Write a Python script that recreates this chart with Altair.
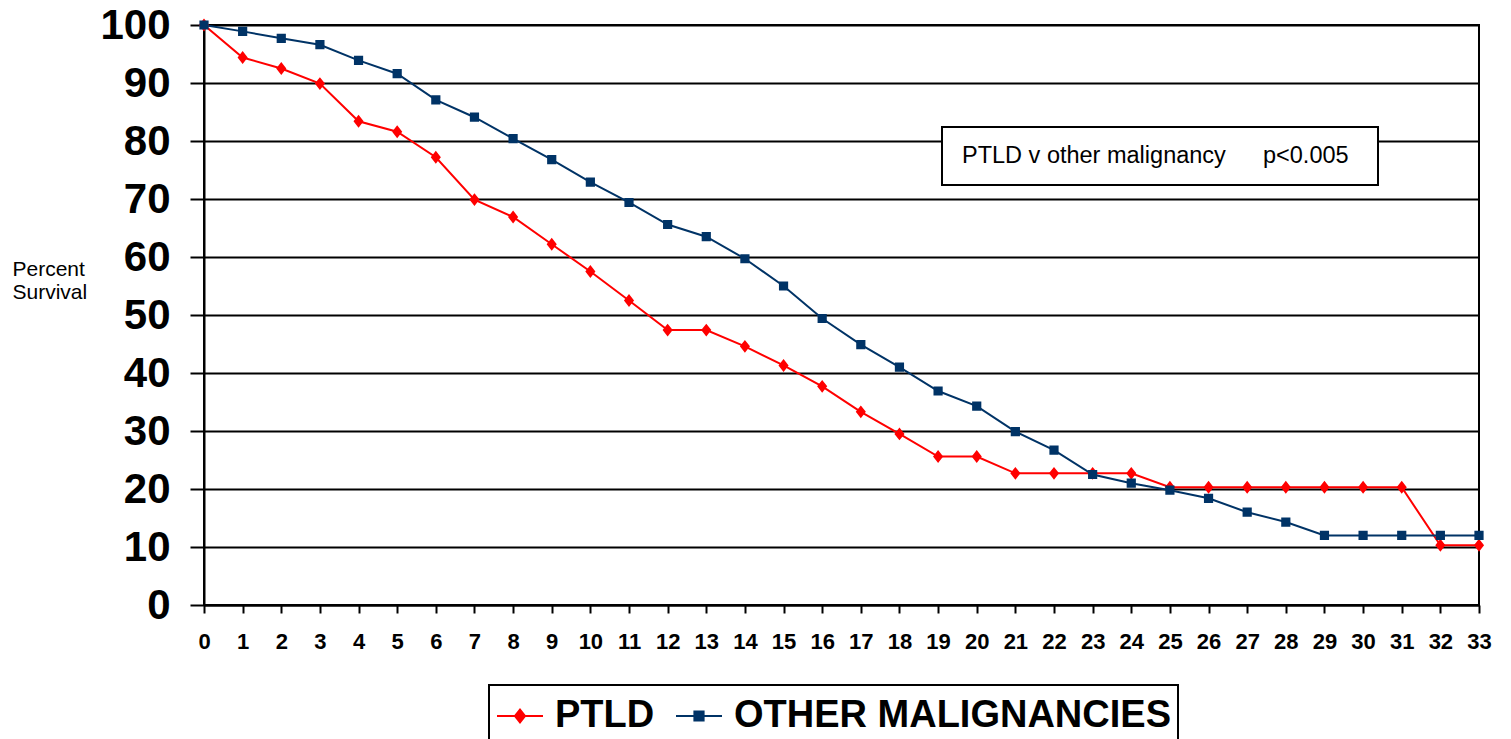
import altair as alt
import pandas as pd

# ---- data ----
months = list(range(0, 34))
ptld = [100, 94.4, 92.5, 89.9, 83.4, 81.6, 77.2, 69.9, 66.9, 62.2, 57.5, 52.5,
        47.4, 47.4, 44.6, 41.3, 37.7, 33.3, 29.5, 25.6, 25.6, 22.7, 22.7, 22.7,
        22.7, 20.3, 20.3, 20.3, 20.3, 20.3, 20.3, 20.3, 10.3, 10.3]
other = [100, 98.9, 97.7, 96.6, 93.9, 91.6, 87.1, 84.1, 80.4, 76.8, 72.9, 69.4,
         65.6, 63.5, 59.7, 55.0, 49.4, 44.9, 41.0, 36.9, 34.3, 29.9, 26.7, 22.5,
         21.0, 19.8, 18.4, 16.0, 14.3, 12.0, 12.0, 12.0, 12.0, 12.0]
series_names = ["PTLD", "OTHER MALIGNANCIES"]
y_ticks = list(range(0, 101, 10))
annotation_left = ["PTLD v other malignancy"]
annotation_right = ["p<0.005"]

RED = "#ff0000"
NAVY = "#003366"
FONT = "Liberation Sans"

df = pd.DataFrame({
    "month": months * 2,
    "survival": ptld + other,
    "series": [series_names[0]] * len(ptld) + [series_names[1]] * len(other),
})
ann = pd.DataFrame({"left": annotation_left, "right": annotation_right})

# marker shapes: an open horizontal stroke (visible only in the legend, where
# symbols are stroked) plus a closed filled marker (diamond / square)
LEG_D = "M-1,0H1M0,-0.28L0.22,0L0,0.28L-0.22,0Z"
LEG_S = "M-1,0H1M-0.2,-0.2H0.2V0.2H-0.2Z"
LEG_SIZE = 2116

legend = alt.Legend(
    title=None,
    orient="none",
    legendX=285,
    legendY=660,
    direction="horizontal",
    labelFont=FONT,
    labelFontSize=38,
    labelFontWeight="bold",
    labelColor="black",
    labelLimit=1000,
    labelOffset=11,
    columnPadding=17,
    symbolSize=LEG_SIZE,
    symbolStrokeWidth=2,
    strokeColor="black",
    fillColor="white",
    padding=7,
)

x = alt.X("month:Q", scale=alt.Scale(domain=[0, 33], nice=False, zero=False),
          axis=alt.Axis(title=None, values=months, tickCount=34, format="d", grid=False,
                        tickSize=8, labelPadding=18, labelFontSize=22,
                        labelFlush=False, labelOverlap=False))
y = alt.Y("survival:Q", scale=alt.Scale(domain=[0, 100], nice=False),
          axis=alt.Axis(values=y_ticks, format="d", grid=True, tickSize=14,
                        labelPadding=20, labelFontSize=42, labelOverlap=False,
                        title=["Percent", "Survival"], titleAngle=0,
                        titleAlign="left", titleBaseline="top",
                        titleX=-192, titleY=233, titleFontSize=21,
                        titleFontWeight="normal", titleLineHeight=23))

fill = alt.Fill("series:N", scale=alt.Scale(domain=series_names, range=[RED, NAVY]),
                sort=series_names, legend=legend)
stroke = alt.Stroke("series:N", scale=alt.Scale(domain=series_names, range=[RED, NAVY]),
                    sort=series_names, legend=legend)
shape = alt.Shape("series:N", scale=alt.Scale(domain=series_names, range=[LEG_D, LEG_S]),
                  sort=series_names, legend=legend)

base = alt.Chart(df)

lines = base.mark_line(strokeWidth=2).encode(
    x=x, y=y, stroke=stroke, detail="series:N")

pts = base.mark_point(filled=True, opacity=1, size=LEG_SIZE, strokeWidth=2).encode(
    x=x, y=y, fill=fill, stroke=stroke, shape=shape,
    strokeWidth=alt.value(0),
)

box = alt.Chart(ann).mark_rect(fill="white", stroke="black", strokeWidth=2).encode(
    x=alt.value(738), x2=alt.value(1174), y=alt.value(102), y2=alt.value(160))
t1 = alt.Chart(ann).mark_text(font=FONT, fontSize=23.5, align="left", baseline="alphabetic",
                              color="black").encode(
    x=alt.value(758), y=alt.value(138), text="left:N")
t2 = alt.Chart(ann).mark_text(font=FONT, fontSize=23.5, align="left", baseline="alphabetic",
                              color="black").encode(
    x=alt.value(1059), y=alt.value(138), text="right:N")

chart = alt.layer(lines, pts, box, t1, t2).properties(
    width=1275, height=580,
    autosize=alt.AutoSizeParams(type="none"),
    padding={"left": 196, "top": 17, "right": 20, "bottom": 140},
    background="white",
).configure_view(
    stroke="black", strokeWidth=2
).configure_axis(
    labelFont=FONT, titleFont=FONT, labelFontWeight="bold", labelColor="black",
    titleColor="black", domainColor="black", domainWidth=2, tickColor="black",
    tickWidth=2, gridColor="black", gridWidth=2, gridOpacity=1,
).configure_legend(
    strokeWidth=2
)

chart.save("out.html", embed_options={"renderer": "svg", "actions": False})
